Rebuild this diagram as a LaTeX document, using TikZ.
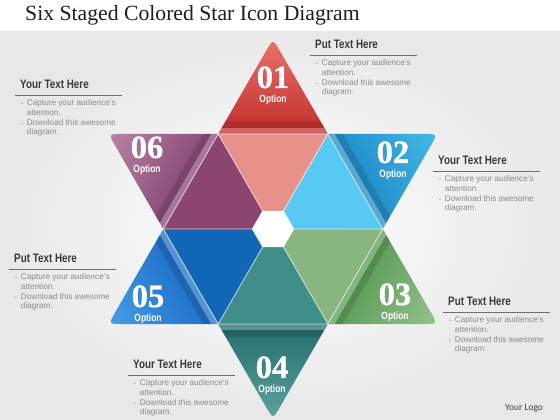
\documentclass[tikz,border=0pt]{standalone}
\usepackage{fontspec}
\setmainfont{Liberation Sans}
\newfontfamily\titlefont{Liberation Serif}
\newfontfamily\numfont[FakeBold=1]{Liberation Serif Bold}
\newfontfamily\condfont[FakeStretch=0.8]{Liberation Sans Bold}
\newfontfamily\logofont{Carlito}
\usetikzlibrary{positioning}

\definecolor{redDark}{HTML}{C22E2A}
\definecolor{redLight}{HTML}{E9736D}
\definecolor{redSoft}{HTML}{E8918B}
\definecolor{skyDark}{HTML}{1682BF}
\definecolor{skyLight}{HTML}{4FC4F1}
\definecolor{skySoft}{HTML}{58C9F3}
\definecolor{greenDark}{HTML}{4C9448}
\definecolor{greenLight}{HTML}{A6CB9F}
\definecolor{greenSoft}{HTML}{89B680}
\definecolor{tealDark}{HTML}{226D6C}
\definecolor{tealLight}{HTML}{60A39F}
\definecolor{tealSoft}{HTML}{3F8E8A}
\definecolor{blueDark}{HTML}{1463BE}
\definecolor{blueLight}{HTML}{4EAAF2}
\definecolor{blueSoft}{HTML}{1167B5}
\definecolor{plumDark}{HTML}{7A3A68}
\definecolor{plumLight}{HTML}{C793B1}
\definecolor{plumSoft}{HTML}{8A466F}
\definecolor{titleInk}{HTML}{1E1E1E}
\definecolor{headInk}{HTML}{3A3A3A}
\definecolor{bodyInk}{HTML}{8A8A8A}
\definecolor{ruleInk}{HTML}{6E6E6E}

\newcommand\capturelist{%
\begin{tabular}[t]{@{}l@{\hspace{4pt}}l@{}}
{\fontsize{5}{5}\selectfont\textbullet} & Capture your audience's\\
 & attention.\\
{\fontsize{5}{5}\selectfont\textbullet} & Download this awesome\\
 & diagram.
\end{tabular}}

\tikzset{
  seam/.style={white,opacity=.7,line width=.8pt},
  numlabel/.style={white,font=\numfont\fontsize{32.5}{34}\selectfont,inner sep=0,anchor=base},
  optlabel/.style={white,font=\condfont\fontsize{10.5}{12}\selectfont,inner sep=0,anchor=base},
  headtext/.style={text=headInk,font=\condfont\fontsize{12.3}{14}\selectfont,inner sep=0,anchor=base west},
  bodytext/.style={text=bodyInk,font=\fontsize{8.2}{9.6}\selectfont,inner sep=0,anchor=base west},
}

\begin{document}
\begin{tikzpicture}[x=1pt,y=1pt]
\useasboundingbox (-273,-191) rectangle (287,229);
% background
\shade[inner color=white,outer color=black!9] (-273,-191) rectangle (287,198);
\fill[white] (-273,198) rectangle (287,229);
\node[anchor=base west,inner sep=0,text=titleInk,font=\titlefont\fontsize{21.7}{24}\selectfont] (title) at (-248,208) {Six Staged Colored Star Icon Diagram};

% star: inner part and tip of each stage
\foreach \ang/\dk/\lt/\sx/\num/\lx/\ly in {90/redDark/redLight/redSoft/01/0/141,
    30/skyDark/skyLight/skySoft/02/120/66,
    -30/greenDark/greenLight/greenSoft/03/122/-76,
    -90/tealDark/tealLight/tealSoft/04/-1/-149,
    -150/blueDark/blueLight/blueSoft/05/-125/-78,
    150/plumDark/plumLight/plumSoft/06/-126/71}{
  \begin{scope}[rotate=\ang]
    \fill[\sx] (18.2,-10.5) -- (95,-54.85) -- (95,54.85) -- (18.2,10.5) -- cycle;
    \begin{scope}
      \clip (95,-54.85) -- (177.9,-7) .. controls (190,0) .. (177.9,7) -- (95,54.85) -- cycle;
      \shade[bottom color=\dk,top color=\lt,shading angle=\ang-90] (95,-56) -- (192,-56) -- (192,56) -- (95,56) -- cycle;
      \fill[white,opacity=.25] (95,-56) rectangle (101,56);
      \fill[black,opacity=.12] (101,-56) rectangle (108,56);
    \end{scope}
  \end{scope}
  \node[numlabel] (n\num) at (\lx,\ly) {\num};
  \node[optlabel] (o\num) at (\lx,\ly-15) {Option};
}
\foreach \a in {0,60,...,300}
  \draw[seam] (\a:21) -- (\a:109.7) -- (\a+60:109.7);
\fill[white] (0:21) -- (60:21) -- (120:21) -- (180:21) -- (240:21) -- (300:21) -- cycle;

% text blocks
\foreach \hx/\hy/\head/\i in {42/180/Put/1,-253/140/Your/2,165/64/Your/3,
    -259/-34/Put/4,175/-77/Put/5,-140/-140/Your/6}{
  \node[headtext] (head\i) at (\hx,\hy) {\head\ Text Here};
  \draw[ruleInk,line width=.7pt] ([xshift=-5pt,yshift=-6.5pt]head\i.base west) -- ++(107,0);
  \node[bodytext] (list\i) at (\hx+1,\hy-17) {\capturelist};
}
\node[anchor=base west,inner sep=0,text=black!75,font=\logofont\fontsize{9.5}{11}\selectfont] (logo) at (232,-182) {Your Logo};
\end{tikzpicture}
\end{document}
